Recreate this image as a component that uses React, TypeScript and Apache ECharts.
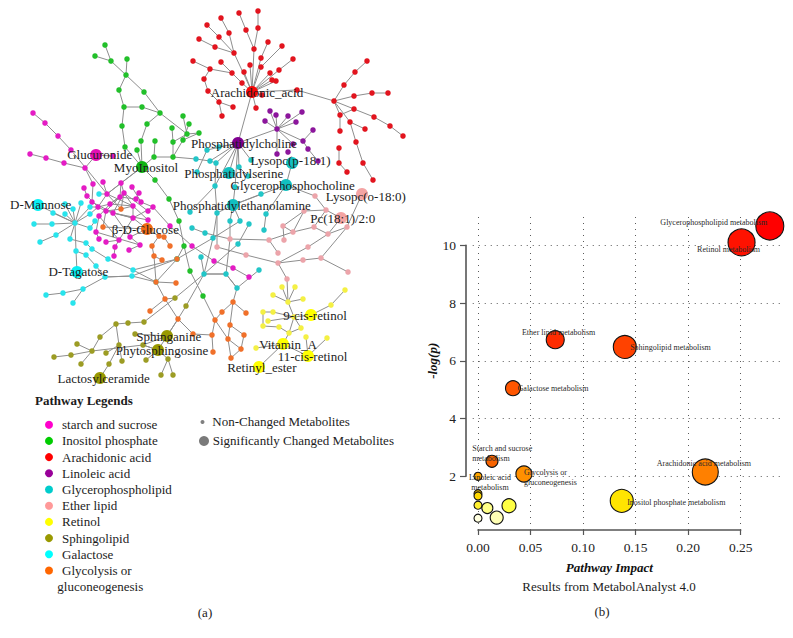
import React, { useEffect, useRef } from "react";
import * as echarts from "echarts";

type P = [number, number];

// ---------- network (a): chains of connected metabolites, per pathway ----------
const starchChains: P[][] = [
  [[33,113],[45,123],[58,136],[71,150],[107,194]],
  [[30,154],[46,158],[64,163],[85,168],[96,155],[113,156]],
  [[85,168],[93,184]],
  [[84,188],[87,196],[98,207],[110,204],[124,193],[121,183],[107,194],[98,207],[106,211]],
  [[170,226],[153,207],[133,218],[119,240],[106,242]],
  [[148,220],[133,206],[110,204],[99,216],[96,232],[99,239]],
  [[148,211],[124,193],[113,213],[130,237],[140,245],[129,250]],
  [[139,193],[136,199],[120,197],[106,211],[133,218]],
  [[132,187],[141,202],[153,207]],
  [[93,184],[92,202],[113,213],[148,220]],
  [[103,182],[107,194],[133,206]],
  [[121,183],[120,197],[110,204]],
  [[124,193],[133,206],[133,218],[113,213]],
  [[119,240],[115,247],[114,256]],
  [[99,216],[119,240]],
  [[96,232],[140,245]],
  [[170,226],[192,246],[214,261],[233,268],[249,277]],
];
const inositolChains: P[][] = [
  [[105,45],[111,61],[126,75]],
  [[95,56],[111,61]],
  [[127,59],[126,75],[119,90],[124,107],[122,126],[125,147],[142,167]],
  [[126,75],[144,92],[160,113],[147,124],[141,141],[142,167]],
  [[124,107],[142,107],[160,113],[187,134],[199,133]],
  [[183,116],[187,134],[173,142]],
  [[189,124],[183,140],[173,157]],
  [[172,128],[173,142],[173,157]],
  [[199,133],[183,140]],
  [[155,141],[154,157],[142,167]],
  [[154,157],[173,157]],
  [[137,150],[142,167]],
  [[142,167],[155,180],[169,199],[179,221],[184,246],[190,271],[203,296]],
  [[177,259],[184,246]],
];
const arachidonicChains: P[][] = [
  [[258,11],[258,28],[254,49],[252,92]],
  [[239,13],[246,30],[254,49]],
  [[221,18],[229,33],[234,53],[252,92]],
  [[207,25],[219,37],[234,53]],
  [[199,39],[215,47],[234,53]],
  [[268,42],[261,58],[252,92]],
  [[282,46],[261,67],[252,92]],
  [[293,59],[279,70],[252,92]],
  [[270,73],[252,92]],[[272,80],[252,92]],[[276,81],[252,92]],[[250,65],[252,92]],
  [[244,72],[252,92]],
  [[193,61],[210,69],[232,73],[242,83],[252,92]],
  [[221,62],[232,73]],
  [[210,69],[204,79],[208,91],[219,102],[222,116]],
  [[219,102],[233,107]],
  [[256,108],[252,92]],[[262,95],[252,92]],
  [[252,92],[297,90],[334,101]],
  [[334,101],[344,85],[355,72],[367,61]],
  [[334,101],[354,96],[372,93],[388,93]],
  [[334,101],[354,109],[374,117],[390,126],[403,136]],
  [[334,101],[340,115],[340,131]],
  [[354,109],[340,115]],
  [[334,101],[350,122],[365,129]],
  [[350,122],[356,142],[363,163],[373,180]],
  [[339,148],[339,163],[347,172]],
];
const linoleicChains: P[][] = [
  [[270,111],[277,129]],[[276,115],[277,129]],[[265,121],[277,129]],
  [[288,116],[277,129]],[[302,112],[277,129]],[[296,122],[277,129]],
  [[277,129],[303,141],[313,130]],
  [[277,129],[277,154]],
  [[277,129],[293,144]],
  [[303,141],[308,149],[318,161]],
  [[288,152]],
  [[238,143],[277,129]],
];
const glyceroChains: P[][] = [
  [[238,143],[207,150]],[[238,143],[219,147]],
  [[196,159],[210,161],[216,163]],
  [[238,143],[210,161]],
  [[238,143],[216,163],[215,186],[217,213],[213,238],[204,274]],
  [[238,143],[229,173]],
  [[238,143],[239,167],[248,176]],
  [[238,143],[235,187],[233,205]],
  [[251,160],[238,143]],
  [[238,143],[215,186],[190,212]],
  [[197,172],[207,150]],
  [[233,205],[230,221]],[[233,205],[240,221]],[[233,205],[217,213]],
  [[261,194],[233,205]],
  [[286,185],[266,214],[264,230]],
  [[292,163],[286,185]],
  [[249,224],[238,244],[204,274]],
  [[204,274],[226,274],[237,288]],
  [[201,257],[204,274]],
  [[259,270],[237,288]],
  [[192,228],[205,233]],
  [[213,238],[240,221]],
];
const etherChains: P[][] = [
  [[326,210],[304,211],[283,226],[284,240]],
  [[304,211],[293,232],[269,240],[278,253]],
  [[283,226],[293,232],[314,227],[328,234],[347,227]],
  [[315,196],[326,210],[314,227]],
  [[278,263],[308,247],[328,234],[341,218]],
  [[217,247],[246,255],[278,263],[303,260],[321,258],[348,272]],
  [[321,258],[347,227],[362,194]],
  [[278,263],[287,279]],
  [[326,210],[341,218]],
  [[230,239],[269,240]],
];
const retinolChains: P[][] = [
  [[282,287],[288,302]],[[295,287],[288,302]],[[273,295],[288,302]],[[303,299],[288,302]],
  [[288,302],[294,317],[289,333],[283,344]],
  [[345,290],[331,305],[311,315],[294,317]],
  [[263,312],[263,326],[279,327],[289,333]],
  [[263,312],[273,312],[294,317]],
  [[268,321],[294,317]],
  [[301,328],[289,333]],[[294,317],[301,328]],
  [[283,344],[308,356]],[[306,337],[308,356]],[[327,338],[308,356]],
  [[256,348],[283,344]],[[259,367],[283,344]],
];
const sphingoChains: P[][] = [
  [[54,357],[71,355],[92,351],[77,344]],
  [[92,351],[81,364]],
  [[92,351],[143,345]],
  [[92,351],[100,337],[116,324],[128,323],[144,322],[175,298]],
  [[116,324],[119,345],[122,361]],
  [[119,345],[109,364],[100,378]],
  [[106,353],[119,345]],
  [[143,345],[158,350]],
  [[146,360],[158,350],[168,359],[161,375]],
  [[168,359],[173,375]],
  [[135,334],[167,336]],
  [[143,345],[167,336]],
  [[186,306]],
];
const galactoseChains: P[][] = [
  [[38,205],[75,223]],[[53,213],[75,223]],[[65,214],[75,223]],
  [[34,224],[52,224],[75,223]],
  [[40,242],[56,235],[75,223]],
  [[65,204],[75,223]],[[81,203],[75,223]],[[73,209],[75,223]],
  [[90,207],[75,223]],[[90,214],[75,223]],
  [[95,221],[90,228],[75,223]],
  [[75,223],[70,239],[86,243],[92,249],[108,259]],
  [[75,223],[76,251],[77,272]],
  [[76,251],[86,255],[96,266],[105,277]],
  [[46,295],[63,293],[83,289],[105,277]],
  [[73,303],[83,289]],
  [[105,277],[132,276],[177,259]],
  [[108,259],[133,270],[177,259]],
  [[132,276],[156,282]],
  [[133,270],[156,282]],
  [[99,194]],
];
const glycolysisChains: P[][] = [
  [[121,209]],
  [[103,227],[147,229]],
  [[147,229],[159,236],[164,237],[170,246]],
  [[159,236],[152,246],[154,256],[162,260]],
  [[154,256],[156,282],[177,259]],
  [[156,282],[176,283]],
  [[156,282],[165,299],[150,311]],
  [[165,299],[178,319],[193,334],[212,335]],
  [[212,335],[213,352]],
  [[212,335],[215,320],[222,312],[233,302]],
  [[215,320],[228,339]],
  [[233,302],[230,325],[228,339],[231,358]],
  [[230,325],[244,335],[241,349],[231,358]],
  [[228,339],[241,349]],
  [[233,302],[246,313]],
];
// links between pathways
const crossChains: P[][] = [
  [[252,92],[238,143]],
  [[173,157],[196,159]],
  [[107,194],[142,167]],
  [[121,183],[142,167]],
  [[203,296],[215,320]],
  [[178,319],[186,306],[204,274]],
  [[175,298],[204,274]],
  [[167,336],[178,319]],
  [[158,350],[178,319]],
  [[143,345],[158,350]],
  [[165,299],[175,298]],
  [[286,185],[315,196]],
  [[286,185],[233,205]],
  [[177,259],[213,238]],
  [[204,274],[226,274]],
  [[205,233],[230,239]],
  [[230,221],[230,239],[226,274]],
  [[217,213],[217,247]],
  [[237,288],[233,302]],
  [[226,274],[237,288]],
  [[121,209],[107,194]],[[121,209],[133,206]],[[121,209],[106,211]],[[121,209],[124,193]],
  [[103,227],[106,211]],[[99,194],[107,194]],[[90,207],[98,207]],[[90,214],[98,207]],
  [[147,229],[133,218]],[[147,229],[130,237]],
  [[105,277],[132,276]],
  [[288,302],[287,279]],
];

const pathwayNames = [
  "starch and sucrose","Inositol phosphate","Arachidonic acid","Linoleic acid","Glycerophospholipid",
  "Ether lipid","Retinol","Sphingolipid","Galactose","Glycolysis or gluconeogenesis",
];
const pathwayChains = [
  starchChains,inositolChains,arachidonicChains,linoleicChains,glyceroChains,
  etherChains,retinolChains,sphingoChains,galactoseChains,glycolysisChains,
];

// significantly changed metabolites: name, pathway index, x, y
const metaboliteNames = [
  "Glucuronide","MyoInositol","Arachidonic_acid","Phosphatidylcholine","Lysopc(p-18:1)","Phosphatidylserine",
  "Glycerophosphocholine","Phosphatidylethanolamine","Lysopc(o-18:0)","Pc(18:1)/2:0","9-cis-retinol","Vitamin_A",
  "11-cis-retinol","Retinyl_ester","Sphinganine","Phytosphingosine","Lactosylceramide","D-Mannose","D-Tagatose","β-D-Glucose",
];
const metabolitePathway = [0,1,2,3,4,4,4,4,5,5,6,6,6,6,7,7,7,8,8,9];
const metaboliteX = [96,142,252,238,292,229,286,233,362,341,311,283,308,259,167,158,100,38,77,147];
const metaboliteY = [155,167,92,143,163,173,185,205,194,218,315,344,356,367,336,350,378,205,272,229];

// ---------- bubble chart (b) ----------
const bubbleNames = [
  "Glycerophospholipid metabolism","Retinol metabolism","Ether lipid metabolism","Sphingolipid metabolism",
  "Galactose metabolism","Starch and sucrose\nmetabolism","Glycolysis or\ngluconeogenesis","Arachidonic acid metabolism",
  "Inositol phosphate metabolism","Linoleic acid\nmetabolism","","","","","","","",
];
const bubbleImpact = [0.2777,0.2508,0.0735,0.1397,0.0333,0.0133,0.0437,0.2163,0.1368,0,0,0,0,0.0089,0.0295,0,0.0178];
const bubbleLogP = [10.67,10.1,6.73,6.48,5.05,2.52,2.08,2.15,1.15,2.0,1.4,1.32,1.0,0.9,0.98,0.55,0.57];

const xTicks = [0,0.05,0.1,0.15,0.2,0.25];
const yTicks = [2,4,6,8,10];

// ---------- styling ----------
const nodeColors = ["#e41cc4","#22c02a","#e2141e","#8c169c","#22c6c8","#eca4aa","#f4f044","#9c9c24","#28e4ec","#f0702a"];
const legendColors = ["#ff00cc","#00cc00","#ff0000","#990099","#00cccc","#ff9999","#ffff00","#999900","#00ffff","#ff6600"];
const bigColors = ["#e410b4","#10b414","#f80808","#800090","#12c0c0","#f4a4a4","#ffff00","#999900","#08f0f4","#f06a14"];
const labelOffsets: P[] = [[3.7,-1],[4,0],[5,0],[6,0],[-1.5,-3],[4.7,0],[6.7,0],[8.8,0],[3.8,2.7],[1.7,0],[4,0],[5,0],[4.5,0],[2.8,0],[1.7,0],[4,0],[3.7,0],[2.7,-1],[1.3,-1],[-1.7,0]];
const bubbleDiameters = [28,27,18,23,15,12,16,26,23,8,8,8,8,11,14,8,13];
const bubbleColors = ["#ff0000","#ff1200","#ff2c00","#ff4200","#ff5600","#f86400","#ff9000","#ff8000","#ffe400","#ffa500","#ffc800","#ffd800","#fff030","#ffff88","#ffff44","#ffffe0","#ffffb4"];
const bubbleLabelOffsets: P[] = [[-56,-3],[-13,7],[3.4,-7.7],[45.7,0.7],[40,0],[-19.7,-8],[0,3.3],[-1.4,-8],[54.5,1.3],[12,6],[0,0],[0,0],[0,0],[0,0],[0,0],[0,0],[0,0]];
const bubbleLabelLeft = [false,false,false,false,false,true,true,false,false,false,false,false,false,false,false,false,false];
const SERIF = '"Liberation Serif", serif';

function uniquePoints(chains: P[][]): P[] {
  const seen = new Set<string>();
  const out: P[] = [];
  chains.forEach((c) => c.forEach((p) => {
    const k = p.join(",");
    if (!seen.has(k)) { seen.add(k); out.push(p); }
  }));
  return out;
}

export default function App() {
  const ref = useRef<HTMLDivElement>(null);
  useEffect(() => {
    const chart = echarts.init(ref.current!, undefined, { renderer: "svg" });
    const bigSet = new Set(metaboliteX.map((x, i) => `${x},${metaboliteY[i]}`));
    const edgeData = [...pathwayChains.flat(), ...crossChains]
      .filter((c) => c.length > 1)
      .map((coords) => ({ coords }));
    const series: any[] = [
      {
        type: "lines", name: "edges", coordinateSystem: "cartesian2d", xAxisIndex: 0, yAxisIndex: 0,
        polyline: true, clip: false, silent: true, z: 1, data: edgeData,
        lineStyle: { color: "#8e8e8e", width: 1, opacity: 1 },
      },
      ...pathwayNames.map((name, i) => ({
        type: "scatter", name, xAxisIndex: 0, yAxisIndex: 0, clip: false, z: 2, symbolSize: 5.5,
        itemStyle: { color: nodeColors[i], opacity: 1 },
        data: uniquePoints(pathwayChains[i]).filter((p) => !bigSet.has(p.join(","))),
      })),
      {
        type: "scatter", name: "Significantly Changed Metabolites", xAxisIndex: 0, yAxisIndex: 0, clip: false, z: 3, symbolSize: 12,
        data: metaboliteNames.map((n, i) => ({
          name: n, value: [metaboliteX[i], metaboliteY[i]],
          itemStyle: { color: bigColors[metabolitePathway[i]], opacity: 1 },
          label: {
            show: true, position: "inside", formatter: n, offset: labelOffsets[i],
            color: "#1c1c1c", fontFamily: SERIF, fontSize: 13,
          },
        })),
      },
      {
        type: "lines", name: "grid", coordinateSystem: "cartesian2d", xAxisIndex: 1, yAxisIndex: 1,
        clip: false, silent: true, z: 1,
        lineStyle: { color: "#5a5a5a", width: 1, type: [1, 5], opacity: 1 },
        data: [
          ...xTicks.map((x) => ({ coords: [[x, 0.14], [x, 11.1]] })),
          ...yTicks.map((y) => ({ coords: [[-0.005, y], [0.29, y]] })),
        ],
      },
      {
        type: "scatter", name: "Pathways", xAxisIndex: 1, yAxisIndex: 1, clip: false, z: 4,
        data: bubbleNames.map((n, i) => ({
          name: n, value: [bubbleImpact[i], bubbleLogP[i]],
          symbolSize: bubbleDiameters[i],
          itemStyle: { color: bubbleColors[i], borderColor: "#111", borderWidth: 1.1, opacity: 1 },
          label: {
            show: n !== "", position: "inside", formatter: n, offset: bubbleLabelOffsets[i],
            align: bubbleLabelLeft[i] ? "left" : "center",
            color: "#2a2a2a", fontFamily: SERIF, fontSize: 8, lineHeight: 10,
          },
        })),
      },
    ];
    const txt = (text: string, x: number, y: number, extra: any = {}) => ({
      type: "text", x, y, z: 10,
      style: {
        text, fill: "#1c1c1c", font: `13px ${SERIF}`,
        textVerticalAlign: "middle", textAlign: "left", ...extra,
      },
    });
    chart.setOption({
      animation: false,
      backgroundColor: "#fff",
      tooltip: { show: false },
      grid: [
        { left: 0, top: 0, width: 430, height: 400 },
        { left: 478, top: 245.3, width: 262.7, height: 231 },
      ],
      xAxis: [
        { type: "value", gridIndex: 0, min: 0, max: 430, show: false },
        {
          type: "value", gridIndex: 1, min: 0, max: 0.25, interval: 0.05, position: "bottom", offset: 53.7,
          splitLine: { show: false },
          axisLine: { onZero: false, lineStyle: { color: "#555", width: 1.6 } },
          axisTick: { length: 5, lineStyle: { color: "#555", width: 1.2 } },
          axisLabel: { color: "#222", fontFamily: SERIF, fontSize: 13.5, margin: 10, formatter: (v: number) => v.toFixed(2), hideOverlap: false, showMinLabel: true, showMaxLabel: true },
          name: "Pathway Impact", nameLocation: "middle", nameGap: 31,
          nameTextStyle: { color: "#111", fontFamily: SERIF, fontSize: 13, fontWeight: "bold", fontStyle: "italic" },
        },
      ],
      yAxis: [
        { type: "value", gridIndex: 0, min: 0, max: 400, inverse: true, show: false },
        {
          type: "value", gridIndex: 1, min: 2, max: 10, interval: 2, position: "left", offset: 12,
          splitLine: { show: false },
          axisLine: { onZero: false, lineStyle: { color: "#555", width: 1.6 } },
          axisTick: { length: 6, lineStyle: { color: "#555", width: 1.2 } },
          axisLabel: { color: "#222", fontFamily: SERIF, fontSize: 13.5, margin: 10 },
          name: "-log(p)", nameLocation: "middle", nameGap: 18, nameRotate: 90,
          nameTextStyle: { color: "#111", fontFamily: SERIF, fontSize: 13, fontWeight: "bold", fontStyle: "italic" },
        },
      ],
      legend: {
        orient: "vertical", left: 40, top: 413.2, itemWidth: 8, itemHeight: 8, itemGap: 3.2, selectedMode: false,
        icon: "circle",
        data: pathwayNames.map((name, i) => ({ name, itemStyle: { color: legendColors[i] } })),
        formatter: (n: string) => (n.startsWith("Glycolysis") ? "Glycolysis or" : n),
        textStyle: { color: "#1c1c1c", fontFamily: SERIF, fontSize: 13, padding: [0, 0, 0, 4] },
      },
      graphic: [
        txt("Pathway Legends", 35, 400.3, { font: `bold 13px ${SERIF}` }),
        txt("gluconeogenesis", 57.3, 586.5),
        { type: "circle", x: 202.5, y: 422, shape: { r: 2 }, style: { fill: "#808080" } },
        { type: "circle", x: 204, y: 441, shape: { r: 5 }, style: { fill: "#7a7a7a" } },
        txt("Non-Changed Metabolites", 212.3, 421.7),
        txt("Significantly Changed Metabolites", 212.7, 440),
        txt("(a)", 205, 612, { textAlign: "center" }),
        txt("Results from MetabolAnalyst 4.0", 609, 586, { textAlign: "center" }),
        txt("(b)", 602, 611, { textAlign: "center" }),
      ],
      series,
    });
    return () => chart.dispose();
  }, []);
  return <div ref={ref} style={{ position: "absolute", left: 0, top: 0, width: 793, height: 638 }} />;
}
